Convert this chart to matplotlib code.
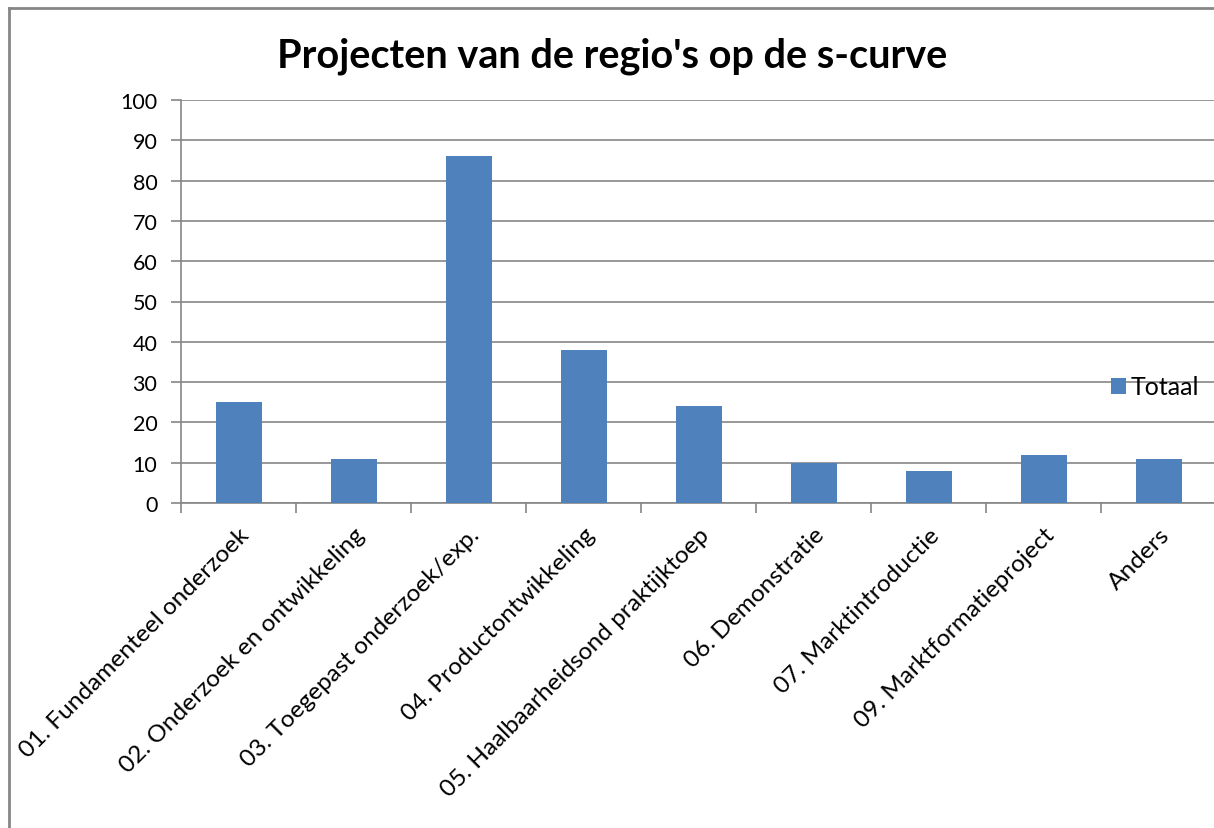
import numpy as np
import matplotlib.pyplot as plt
from matplotlib.lines import Line2D

categories = ["01. Fundamenteel onderzoek", "02. Onderzoek en ontwikkeling",
              "03. Toegepast onderzoek/exp.", "04. Productontwikkeling",
              "05. Haalbaarheidsond praktijktoep", "06. Demonstratie",
              "07. Marktintroductie", "09. Marktformatieproject", "Anders"]
totaal = [25, 11, 86, 38, 24, 10, 8, 12, 11]
y_ticks = list(range(0, 101, 10))

plt.rcParams['font.family'] = ['Lato', 'DejaVu Sans']
grey = "#868686"

fig = plt.figure(figsize=(12.14, 8.29), dpi=100)
ax = fig.add_axes([181 / 1214, 1 - 504 / 829, 1035 / 1214, 403 / 829])

x = np.arange(len(categories))
ax.bar(x, totaal, width=0.4, color="#4F81BD", zorder=3, label="Totaal")

ax.set_xlim(-0.5, len(categories) - 0.5)
ax.set_ylim(0, 100)
ax.set_yticks(y_ticks)
ax.yaxis.grid(True, color=grey, linewidth=1.2, zorder=0)
ax.tick_params(axis='y', labelsize=15.5, length=7, color=grey, width=1.2, pad=10)

# ticks between categories, labels at the category centres
ax.set_xticks(np.arange(len(categories)) - 0.5, minor=False)
ax.set_xticklabels([])
ax.tick_params(axis='x', length=7, color=grey, width=1.2)
ax.set_xticks(x, minor=True)
ax.set_xticklabels(categories, minor=True, rotation=45, ha='right', va='top',
                   rotation_mode='anchor', fontsize=17.6)
ax.tick_params(axis='x', which='minor', length=0, pad=15)

for side in ['top', 'right']:
    ax.spines[side].set_visible(False)
for side in ['left', 'bottom']:
    ax.spines[side].set_color(grey)
    ax.spines[side].set_linewidth(1.2)

fig.text(612 / 1214, 1 - 56 / 829, "Projecten van de regio's op de s-curve",
         ha='center', va='center', fontsize=28.5, fontweight='bold')

ax.legend(loc='center left', bbox_to_anchor=(1098 / 1214, 1 - 388 / 829),
          bbox_transform=fig.transFigure, frameon=False, fontsize=18,
          handlelength=0.6, handleheight=0.6, handletextpad=0.2, borderpad=0)

# chart frame, only left and top edges are visible in the crop
fig.lines.append(Line2D([8.5 / 1214, 8.5 / 1214], [0, 1 - 8.5 / 829],
                        transform=fig.transFigure, color=grey, linewidth=2))
fig.lines.append(Line2D([8.5 / 1214, 1.01], [1 - 8.5 / 829, 1 - 8.5 / 829],
                        transform=fig.transFigure, color=grey, linewidth=2))

fig.savefig("out.png", dpi=100)
